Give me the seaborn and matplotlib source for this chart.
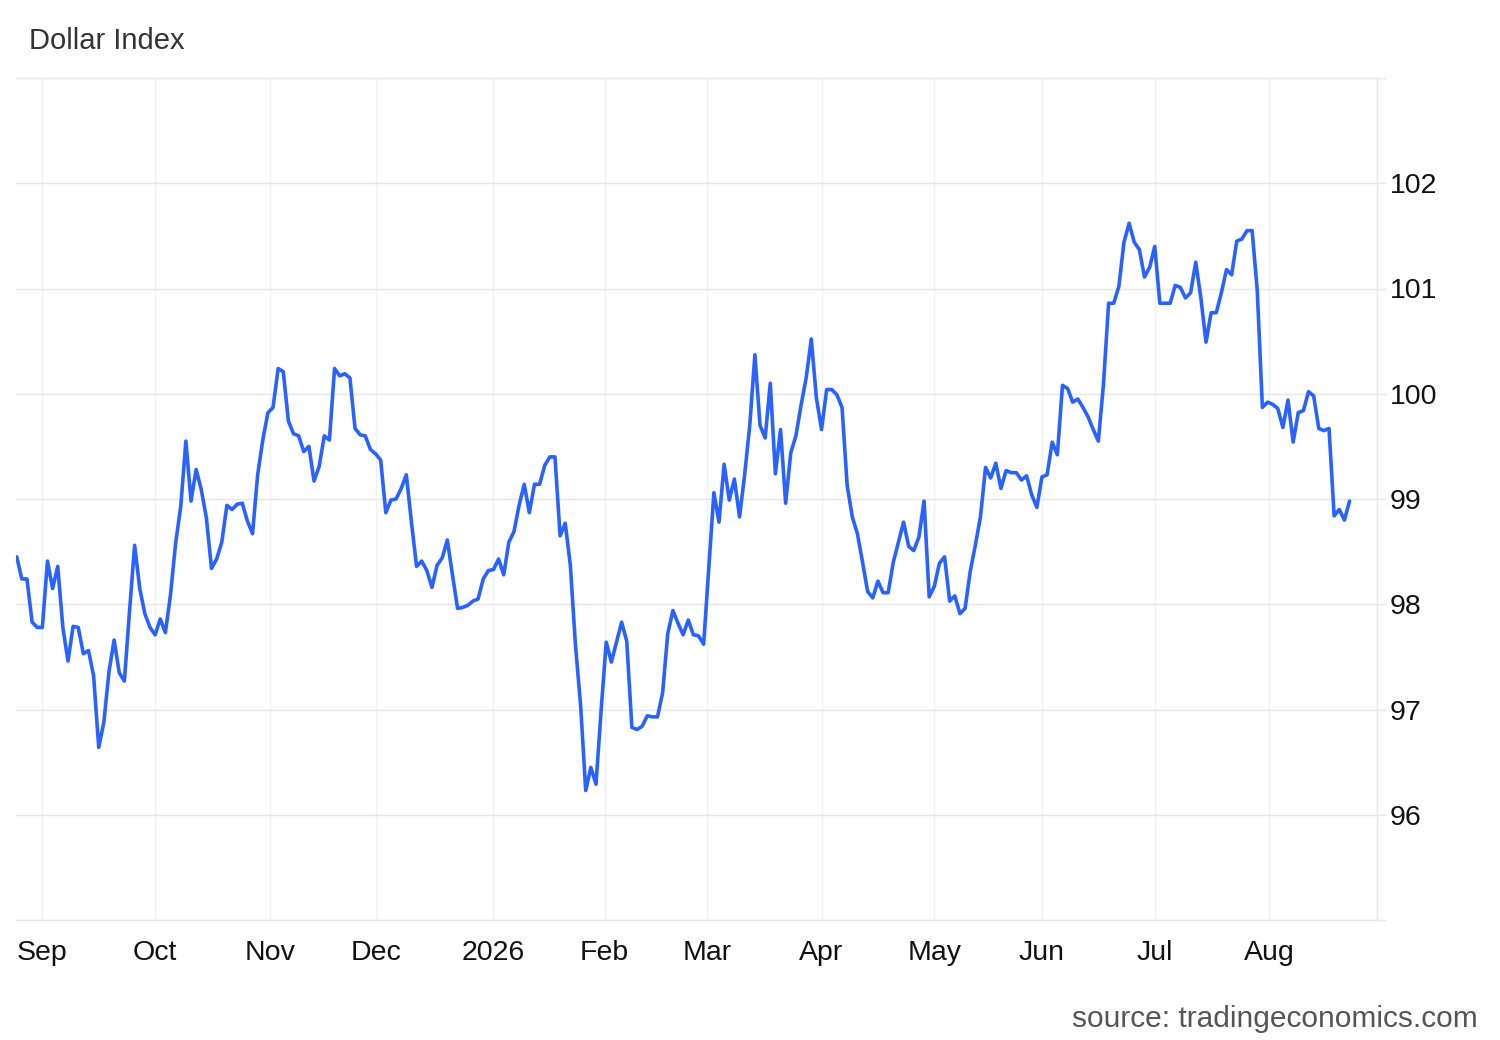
import numpy as np
import pandas as pd
import matplotlib
matplotlib.use("Agg")
import matplotlib.pyplot as plt
import seaborn as sns

# ---- data ----
title = "Dollar Index"
source = "source: tradingeconomics.com"
start_date = "2025-08-25"

dxy = [
    98.45, 98.24, 98.24, 97.83, 97.78, 97.78, 98.41, 98.15, 98.36, 97.78,
    97.46, 97.79, 97.78, 97.53, 97.56, 97.32, 96.64, 96.88, 97.36, 97.66,
    97.35, 97.27, 97.93, 98.56, 98.15, 97.91, 97.78, 97.71, 97.86, 97.73,
    98.09, 98.58, 98.93, 99.55, 98.98, 99.28, 99.09, 98.82, 98.34, 98.43,
    98.59, 98.94, 98.90, 98.95, 98.96, 98.79, 98.67, 99.23, 99.56, 99.82,
    99.87, 100.24, 100.21, 99.74, 99.62, 99.60, 99.45, 99.50, 99.17, 99.31,
    99.60, 99.56, 100.24, 100.17, 100.19, 100.15, 99.67, 99.61, 99.60, 99.47,
    99.43, 99.37, 98.87, 98.99, 99.00, 99.10, 99.23, 98.78, 98.36, 98.41,
    98.32, 98.16, 98.37, 98.44, 98.61, 98.28, 97.96, 97.97, 97.99, 98.03,
    98.05, 98.24, 98.32, 98.33, 98.43, 98.28, 98.59, 98.69, 98.94, 99.14,
    98.87, 99.14, 99.14, 99.32, 99.40, 99.40, 98.65, 98.77, 98.37, 97.61,
    97.04, 96.23, 96.45, 96.29, 96.99, 97.64, 97.45, 97.64, 97.83, 97.65,
    96.83, 96.81, 96.84, 96.94, 96.93, 96.93, 97.16, 97.72, 97.94, 97.82,
    97.71, 97.85, 97.71, 97.70, 97.62, 98.34, 99.06, 98.78, 99.33, 98.99,
    99.19, 98.83, 99.23, 99.70, 100.37, 99.70, 99.58, 100.10, 99.24, 99.66,
    98.96, 99.44, 99.60, 99.89, 100.15, 100.52, 99.96, 99.66, 100.04, 100.04,
    99.99, 99.87, 99.13, 98.83, 98.67, 98.40, 98.12, 98.06, 98.22, 98.11,
    98.11, 98.40, 98.59, 98.78, 98.55, 98.51, 98.64, 98.98, 98.07, 98.17,
    98.39, 98.45, 98.03, 98.08, 97.91, 97.96, 98.31, 98.56, 98.83, 99.30,
    99.20, 99.34, 99.10, 99.27, 99.25, 99.25, 99.18, 99.22, 99.04, 98.92,
    99.21, 99.23, 99.54, 99.42, 100.08, 100.05, 99.92, 99.95, 99.87, 99.78,
    99.66, 99.55, 100.09, 100.86, 100.86, 101.02, 101.44, 101.62, 101.44, 101.37,
    101.11, 101.20, 101.40, 100.86, 100.86, 100.86, 101.03, 101.01, 100.91, 100.96,
    101.25, 100.91, 100.49, 100.77, 100.77, 100.96, 101.18, 101.13, 101.45, 101.47,
    101.55, 101.55, 100.98, 99.87, 99.92, 99.90, 99.86, 99.68, 99.94, 99.54,
    99.82, 99.84, 100.02, 99.98, 99.67, 99.65, 99.67, 98.84, 98.90, 98.80,
    98.98,
]

month_starts = ["2025-09-01", "2025-10-01", "2025-11-01", "2025-12-01", "2026-01-01",
                "2026-02-01", "2026-03-01", "2026-04-01", "2026-05-01", "2026-06-01",
                "2026-07-01", "2026-08-01"]
month_labels = ["Sep", "Oct", "Nov", "Dec", "2026", "Feb", "Mar", "Apr", "May",
                "Jun", "Jul", "Aug"]
y_ticks = [95, 96, 97, 98, 99, 100, 101, 102, 103]
y_labels = ["", "96", "97", "98", "99", "100", "101", "102", ""]

# ---- frame ----
dates = pd.bdate_range(start_date, periods=len(dxy))
df = pd.DataFrame({"date": dates, "value": dxy})
df["pos"] = np.arange(len(df))  # ordinal (trading-day) axis

# month-start tick positions on the ordinal axis
t_num = dates.values.astype("datetime64[s]").astype(np.int64).astype(float)
m_num = pd.to_datetime(month_starts).values.astype("datetime64[s]").astype(np.int64).astype(float)
tick_pos = np.interp(m_num, t_num, df["pos"].values)

sns.set_style("white")
plt.rcParams["font.family"] = ["Liberation Sans", "DejaVu Sans"]

W, H = 1500, 1040
fig = plt.figure(figsize=(W / 100, H / 100), dpi=100)
left, right, top, bottom = 16, 1376.7, 78, 920
ax = fig.add_axes([left / W, 1 - bottom / H, (right - left) / W, (bottom - top) / H])

sns.lineplot(data=df, x="pos", y="value", ax=ax, color="#2962FF", linewidth=2.6,
             solid_joinstyle="round", zorder=3)

ax.set_xlim(-0.14, 265.3)
ax.set_ylim(95, 103)
ax.set_xlabel("")
ax.set_ylabel("")

ax.yaxis.tick_right()
ax.set_yticks(y_ticks)
ax.set_yticklabels(y_labels)
ax.tick_params(axis="y", length=6.5, width=1, color="#e6e6e6", pad=2.8,
               labelsize=20.5, labelcolor="#111111")

ax.set_xticks(tick_pos)
ax.set_xticklabels(month_labels)
ax.tick_params(axis="x", length=0, pad=14.5, labelsize=20.5, labelcolor="#111111")

ax.grid(axis="y", color="#e6e6e6", linewidth=1)
ax.grid(axis="x", color="#eef1f5", linewidth=1)
ax.set_axisbelow(True)

ax.spines["left"].set_visible(False)
for s in ["right", "bottom", "top"]:
    ax.spines[s].set_visible(True)
    ax.spines[s].set_color("#e6e6e6")
    ax.spines[s].set_linewidth(1)

fig.text(29 / W, 1 - 41 / H, title, ha="left", va="center", fontsize=21, color="#333333")
fig.text(1478 / W, 1 - 1019 / H, source, ha="right", va="center", fontsize=21.5,
         color="#555555")

fig.savefig("out.png", dpi=100, facecolor="white")
